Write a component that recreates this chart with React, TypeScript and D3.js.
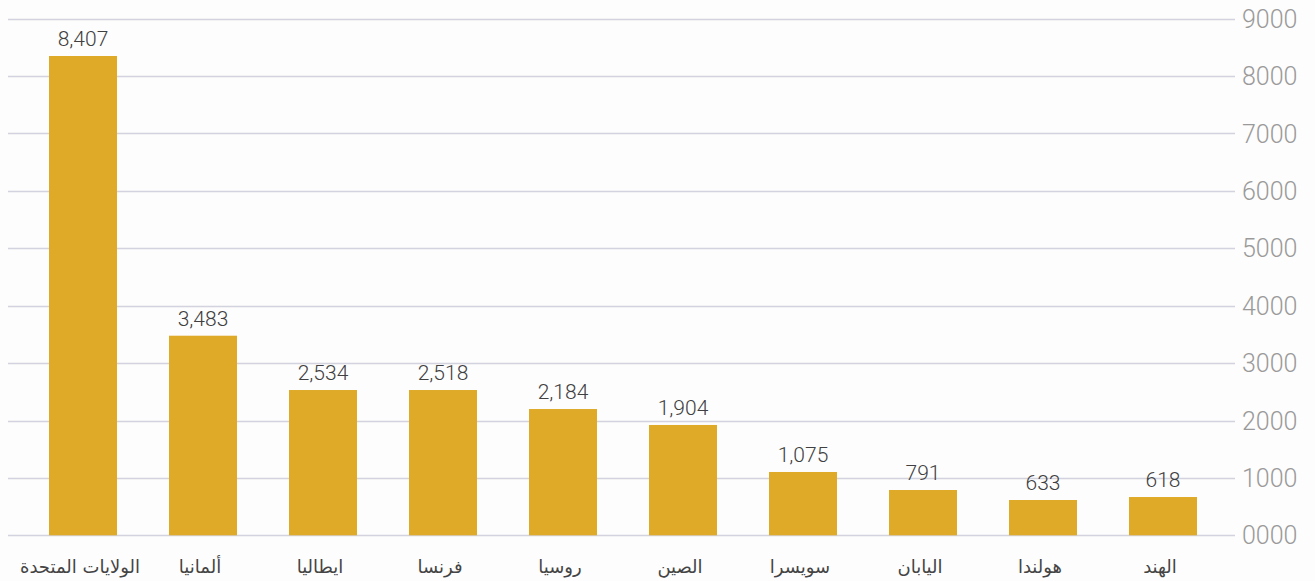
import React from "react";
import * as d3 from "d3";

const categories = [
  "الولايات المتحدة",
  "ألمانيا",
  "ايطاليا",
  "فرنسا",
  "روسيا",
  "الصين",
  "سويسرا",
  "اليابان",
  "هولندا",
  "الهند",
];
// bar heights as drawn in the picture
const barValues = [8350, 3477, 2531, 2531, 2200, 1922, 1103, 789, 615, 667];
// value labels printed above the bars
const labelValues = [8407, 3483, 2534, 2518, 2184, 1904, 1075, 791, 633, 618];
const yTicks = [0, 1000, 2000, 3000, 4000, 5000, 6000, 7000, 8000, 9000];

const W = 1315;
const H = 581;

export default function App() {
  const x = d3
    .scaleBand<string>()
    .domain(categories)
    .range([23, 1223])
    .paddingInner(0.4333)
    .paddingOuter(0.2167);
  const y = d3.scaleLinear().domain([0, 9000]).range([535.3, 18.7]);
  const tickFmt = d3.format("04d");
  const labelFmt = d3.format(",");

  return (
    <svg
      width={W}
      height={H}
      style={{ position: "absolute", left: 0, top: 0, background: "#fdfdfd" }}
    >
      <rect x={0} y={0} width={W} height={H} fill="#fdfdfd" />
      {yTicks.map((t) => (
        <g key={t}>
          <line
            x1={8}
            x2={1235}
            y1={Math.round(y(t)) + 0.5}
            y2={Math.round(y(t)) + 0.5}
            stroke="#d3d3df"
            strokeWidth={1.3}
          />
          <text
            x={1242}
            y={y(t)}
            dy="0.36em"
            fontFamily="Roboto, sans-serif"
            fontWeight={300}
            fontSize={25}
            fill="#9a9a9a"
          >
            {tickFmt(t)}
          </text>
        </g>
      ))}
      {categories.map((c, i) => {
        const bx = x(c) as number;
        const cx = bx + x.bandwidth() / 2;
        return (
          <g key={c}>
            <rect
              x={bx}
              y={y(barValues[i])}
              width={x.bandwidth()}
              height={y(0) - y(barValues[i])}
              fill="#dfaa27"
            />
            <text
              x={cx}
              y={y(barValues[i]) - 10}
              textAnchor="middle"
              fontFamily="Roboto, sans-serif"
              fontWeight={300}
              fontSize={21}
              fill="#404040"
            >
              {labelFmt(labelValues[i])}
            </text>
            <text
              x={cx - 3}
              y={573}
              textAnchor="middle"
              direction="rtl"
              fontFamily="'DejaVu Sans', sans-serif"
              fontSize={18}
              fill="#444"
            >
              {c}
            </text>
          </g>
        );
      })}
    </svg>
  );
}
